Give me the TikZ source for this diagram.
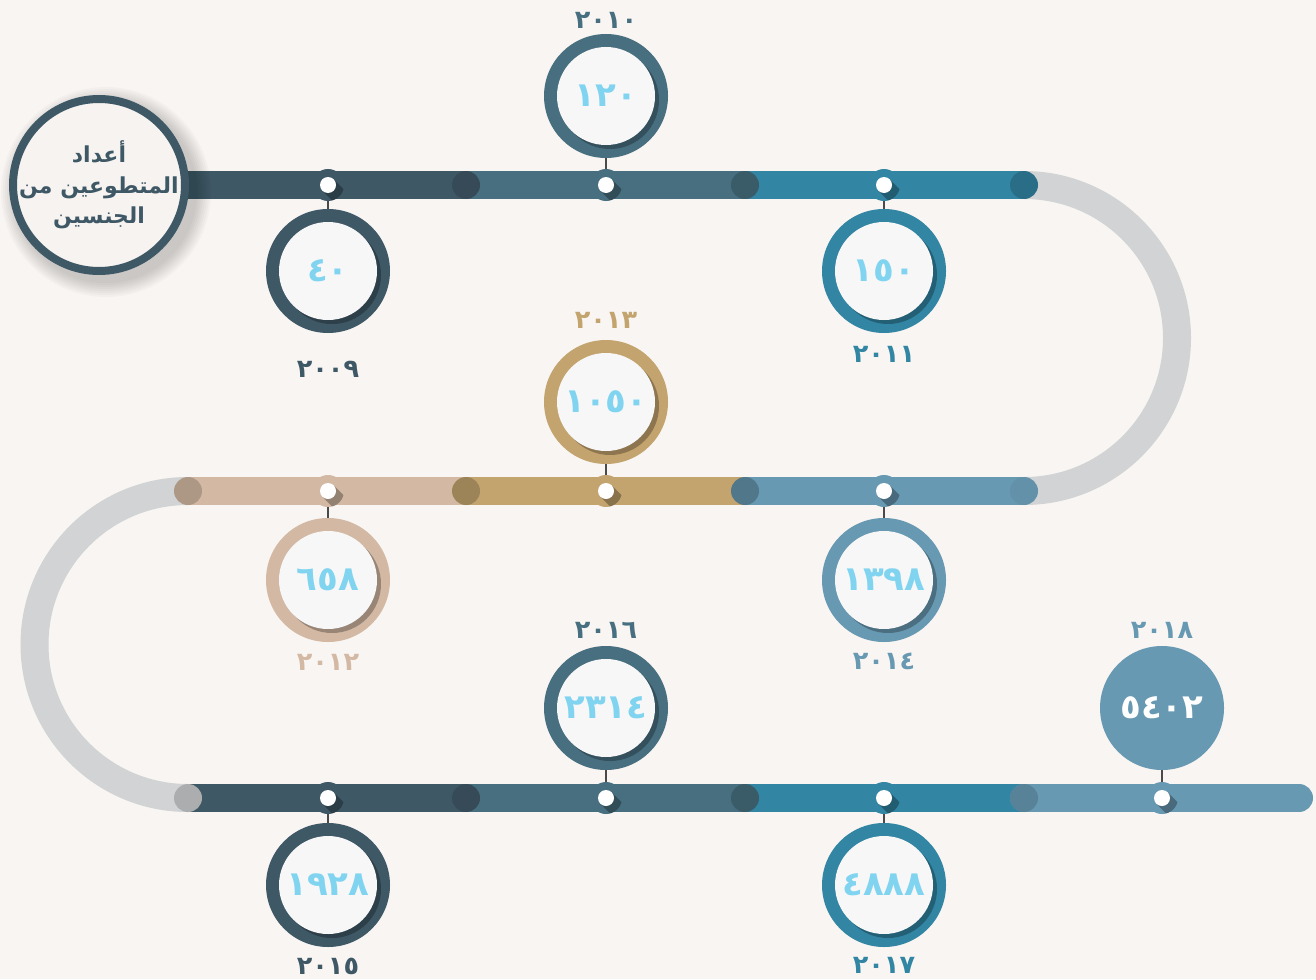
\documentclass[tikz,border=0pt]{standalone}
\usepackage{tikz}
\usepackage{xcolor}
\usepackage{fontspec}
\TeXXeTstate=1
\newfontfamily\arabicfont[Script=Arabic]{DejaVu Sans}
\newcommand\mytrackwidth{28pt}
\newcommand\valfont{\arabicfont\bfseries\fontsize{34}{38}\selectfont}
\newcommand\yearfont{\arabicfont\bfseries\fontsize{25.5}{30}\selectfont}
\newcommand\titlefont{\arabicfont\bfseries\fontsize{22}{30.5}\selectfont}

\definecolor{bgcream}{HTML}{F8F5F2}
\definecolor{slate}{HTML}{3F5866}
\definecolor{steel}{HTML}{476F7F}
\definecolor{teal}{HTML}{3285A3}
\definecolor{sky}{HTML}{6899B2}
\definecolor{gold}{HTML}{C4A46E}
\definecolor{sand}{HTML}{D3B9A4}
\definecolor{arcgray}{HTML}{D1D3D4}
\definecolor{valblue}{HTML}{80D4F0}
\definecolor{innerwhite}{HTML}{F7F7F8}
\definecolor{titlefill}{HTML}{F6F3F0}
\definecolor{stemgray}{HTML}{4A4A4A}

\tikzset{
	track/.style={line width=\mytrackwidth},
	tlstop/.style={circle, inner sep=0pt, minimum size=32pt, fill=#1,
		path picture={
			\fill[black, opacity=.3] ([shift={(5.66pt,5.66pt)}]path picture bounding box.center)
				-- ([shift={(25.66pt,-14.34pt)}]path picture bounding box.center)
				-- ([shift={(14.34pt,-25.66pt)}]path picture bounding box.center)
				-- ([shift={(-5.66pt,-5.66pt)}]path picture bounding box.center) -- cycle;
			\fill[white] (path picture bounding box.center) circle (8pt);
		}},
	valring/.style={circle, inner sep=0pt, minimum size=124pt, fill=#1, text=valblue, font=\valfont,
		path picture={
			\fill[#1!72!black] ([shift={(4pt,-4pt)}]path picture bounding box.center) circle (49pt);
			\fill[innerwhite] (path picture bounding box.center) circle (49pt);
		}},
	solidring/.style={circle, inner sep=0pt, minimum size=124pt, fill=#1, text=white, font=\valfont},
	yearlbl/.style={font=\yearfont, text=#1, inner sep=0pt},
	stem/.style={draw=stemgray, line width=1.5pt},
	titlering/.style={circle, draw=slate, line width=8pt, fill=titlefill, minimum size=172pt, inner sep=0pt},
	titletext/.style={text=slate, align=center, font=\titlefont, inner sep=0pt},
}

\begin{document}
\begin{tikzpicture}[x=1pt, y=-1pt]
			\fill[bgcream] (0,0) rectangle (1316,979);
			\useasboundingbox (0,0) rectangle (1316,979);
			% bends
			\draw[track, arcgray] (1024,185) arc (-90:90:153);
			\draw[track, arcgray] (188,491) arc (-90:-270:153.5);
			% first row
			\draw[track, slate] (188,185) -- (466,185);
			\draw[track, steel] (466,185) -- (745,185);
			\draw[track, teal]  (745,185) -- (1024,185);
			\fill[slate!85!black] (466,185) circle (14);
			\fill[steel!82!black] (745,185) circle (14);
			\fill[teal!82!black] (1024,185) circle (14);
			% second row
			\draw[track, sky]  (1024,491) -- (745,491);
			\draw[track, gold] (745,491) -- (466,491);
			\draw[track, sand] (466,491) -- (188,491);
			\fill[sky!95!black] (1024,491) circle (14);
			\fill[sky!78!black] (745,491) circle (14);
			\fill[gold!80!black] (466,491) circle (14);
			\fill[sand!82!black] (188,491) circle (14);
			% third row
			\draw[track, slate] (188,798) -- (466,798);
			\draw[track, steel] (466,798) -- (745,798);
			\draw[track, teal]  (745,798) -- (1024,798);
			\draw[track, sky, line cap=round] (1024,798) -- (1299,798);
			\fill[arcgray!82!black] (188,798) circle (14);
			\fill[slate!85!black] (466,798) circle (14);
			\fill[steel!82!black] (745,798) circle (14);
			\fill[sky!85!black] (1024,798) circle (14);

			% soft shadow behind the title
			\foreach \r in {91,93,...,105}
				\fill[black, opacity=.025] (106,192) circle (\r);
			\node[titlering] (title) at (99,185) {};
			\node[titletext] (titlelbl) at (title.center) {\beginR أعداد\endR\\\beginR المتطوعين من\endR\\\beginR الجنسين\endR};

			\node[tlstop=slate] (d09) at (328,185) {};
			\node[valring=slate] (v09) at (328,271) {٤٠};
			\node[yearlbl=slate] (y09) at (328,369) {٢٠٠٩};
			\draw[stem] (d09) -- (v09);

			\node[tlstop=steel] (d10) at (606,185) {};
			\node[valring=steel] (v10) at (606,96) {١٢٠};
			\node[yearlbl=steel] (y10) at (606,20) {٢٠١٠};
			\draw[stem] (d10) -- (v10);

			\node[tlstop=teal] (d11) at (884,185) {};
			\node[valring=teal] (v11) at (884,271) {١٥٠};
			\node[yearlbl=teal] (y11) at (884,354) {٢٠١١};
			\draw[stem] (d11) -- (v11);

			\node[tlstop=sky] (d14) at (884,491) {};
			\node[valring=sky] (v14) at (884,580) {١٣٩٨};
			\node[yearlbl=sky] (y14) at (884,661) {٢٠١٤};
			\draw[stem] (d14) -- (v14);

			\node[tlstop=gold] (d13) at (606,491) {};
			\node[valring=gold] (v13) at (606,402) {١٠٥٠};
			\node[yearlbl=gold] (y13) at (606,320) {٢٠١٣};
			\draw[stem] (d13) -- (v13);

			\node[tlstop=sand] (d12) at (328,491) {};
			\node[valring=sand] (v12) at (328,580) {٦٥٨};
			\node[yearlbl=sand] (y12) at (328,662) {٢٠١٢};
			\draw[stem] (d12) -- (v12);

			\node[tlstop=slate] (d15) at (328,798) {};
			\node[valring=slate] (v15) at (328,885) {١٩٢٨};
			\node[yearlbl=slate] (y15) at (328,966) {٢٠١٥};
			\draw[stem] (d15) -- (v15);

			\node[tlstop=steel] (d16) at (606,798) {};
			\node[valring=steel] (v16) at (606,708) {٢٣١٤};
			\node[yearlbl=steel] (y16) at (606,630) {٢٠١٦};
			\draw[stem] (d16) -- (v16);

			\node[tlstop=teal] (d17) at (884,798) {};
			\node[valring=teal] (v17) at (884,885) {٤٨٨٨};
			\node[yearlbl=teal] (y17) at (884,965) {٢٠١٧};
			\draw[stem] (d17) -- (v17);

			\node[tlstop=sky] (d18) at (1162,798) {};
			\node[solidring=sky] (v18) at (1162,708) {٥٤٠٢};
			\node[yearlbl=sky] (y18) at (1162,630) {٢٠١٨};
			\draw[stem] (d18) -- (v18);
		\end{tikzpicture}
\end{document}
